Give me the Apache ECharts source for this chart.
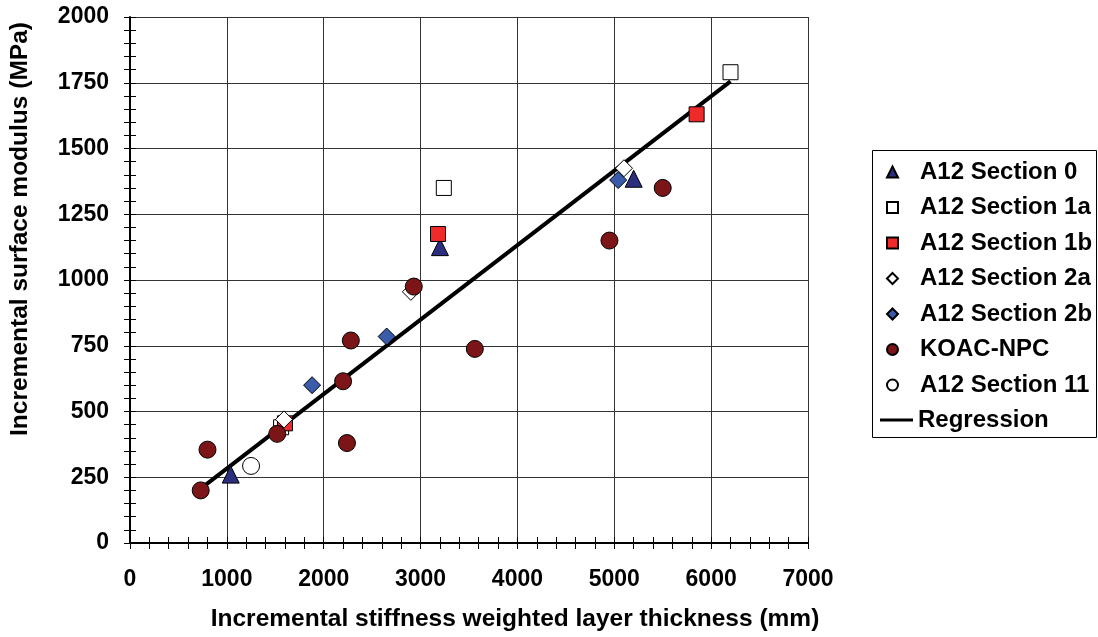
<!DOCTYPE html>
<html>
<head>
<meta charset="utf-8">
<script src="https://cdn.jsdelivr.net/npm/echarts@6/dist/echarts.min.js"></script>
<style>html,body{margin:0;padding:0;background:#fff}#c{width:1098px;height:637px}</style>
</head>
<body>
<div id="c"></div>
<script>
// ---- data ----
const sec0X = [1040, 3200, 5200];
const sec0Y = [260, 1125, 1385];
const sec1aX = [1560, 3240, 6200];
const sec1aY = [440, 1350, 1790];
const sec1bX = [1600, 3180, 5850];
const sec1bY = [455, 1175, 1630];
const sec2aX = [1590, 2900, 5100];
const sec2aY = [470, 955, 1425];
const sec2bX = [1880, 2650, 5040];
const sec2bY = [600, 785, 1380];
const koacX = [730, 800, 1520, 2200, 2280, 2240, 2930, 3560, 4950, 5500];
const koacY = [200, 355, 415, 615, 770, 380, 975, 738, 1150, 1350];
const sec11X = [1250];
const sec11Y = [293];
const regX = [730, 6200];
const regY = [207, 1755];
const seriesNames = ['A12 Section 0', 'A12 Section 1a', 'A12 Section 1b', 'A12 Section 2a', 'A12 Section 2b', 'KOAC-NPC', 'A12 Section 11', 'Regression'];
const xTitle = 'Incremental stiffness weighted layer thickness (mm)';
const yTitle = 'Incremental surface modulus (MPa)';

const zip = (xs, ys) => xs.map((x, i) => [x, ys[i]]);
const FONT = 'Liberation Sans, Arial, sans-serif';
const plain = v => String(v);

function scatter(name, xs, ys, symbol, size, color) {
  return {
    name, type: 'scatter', data: zip(xs, ys), symbol, symbolSize: size,
    itemStyle: { color, borderColor: '#000', borderWidth: 1, opacity: 1 },
    emphasis: { disabled: true }, z: 3
  };
}

const chart = echarts.init(document.getElementById('c'), null, { renderer: 'canvas' });
const axisCommonX = { type: 'value', min: 0, max: 7000, interval: 1000 };
const axisCommonY = { type: 'value', min: 0, max: 2000, interval: 250 };
chart.setOption({
  animation: false,
  backgroundColor: '#fff',
  grid: { left: 129, right: 290, top: 17, bottom: 93 },
  xAxis: [
    Object.assign({}, axisCommonX, {
      position: 'bottom',
      name: xTitle, nameLocation: 'middle', nameGap: 64,
      nameTextStyle: { fontFamily: FONT, fontWeight: 'bold', fontSize: 24.5, color: '#000', padding: [0, 0, 0, 92] },
      axisLine: { show: true, lineStyle: { color: '#000', width: 2 } },
      axisTick: { show: true, inside: false, length: 6, lineStyle: { color: '#000', width: 1 } },
      minorTick: { show: true, splitNumber: 5, length: 6, lineStyle: { color: '#000', width: 1 } },
      axisLabel: { fontFamily: FONT, fontWeight: 'bold', fontSize: 23, color: '#000', margin: 25, formatter: plain },
      splitLine: { show: true, lineStyle: { color: '#333', width: 1 } },
      minorSplitLine: { show: false }
    }),
    Object.assign({}, axisCommonX, {
      position: 'bottom',
      axisLine: { show: false },
      axisTick: { show: true, inside: true, length: 6, lineStyle: { color: '#000', width: 1 } },
      minorTick: { show: true, splitNumber: 5, length: 6, lineStyle: { color: '#000', width: 1 } },
      axisLabel: { show: false },
      splitLine: { show: false }
    })
  ],
  yAxis: [
    Object.assign({}, axisCommonY, {
      position: 'left',
      name: yTitle, nameLocation: 'middle', nameGap: 97, nameRotate: 90,
      nameTextStyle: { fontFamily: FONT, fontWeight: 'bold', fontSize: 24.5, color: '#000', padding: [0, 0, 0, 102] },
      axisLine: { show: true, lineStyle: { color: '#000', width: 2 } },
      axisTick: { show: true, inside: false, length: 6, lineStyle: { color: '#000', width: 1 } },
      minorTick: { show: true, splitNumber: 5, length: 6, lineStyle: { color: '#000', width: 1 } },
      axisLabel: { fontFamily: FONT, fontWeight: 'bold', fontSize: 23, color: '#000', margin: 21, formatter: plain },
      splitLine: { show: true, lineStyle: { color: '#333', width: 1 } },
      minorSplitLine: { show: false }
    }),
    Object.assign({}, axisCommonY, {
      position: 'left',
      axisLine: { show: false },
      axisTick: { show: true, inside: true, length: 6, lineStyle: { color: '#000', width: 1 } },
      minorTick: { show: true, splitNumber: 5, length: 6, lineStyle: { color: '#000', width: 1 } },
      axisLabel: { show: false },
      splitLine: { show: false }
    })
  ],
  legend: [
    {
      data: seriesNames.slice(0, 7),
      orient: 'vertical', left: 881, top: 155,
      itemWidth: 11, itemHeight: 11, itemGap: 11.5,
      selectedMode: false,
      textStyle: { fontFamily: FONT, fontWeight: 'bold', fontSize: 24, lineHeight: 24, color: '#000', padding: [0, 0, 0, 17] }
    },
    {
      data: [{ name: seriesNames[7], icon: 'rect' }],
      orient: 'vertical', left: 875, top: 403,
      itemWidth: 33, itemHeight: 3,
      selectedMode: false,
      itemStyle: { color: '#000' },
      textStyle: { fontFamily: FONT, fontWeight: 'bold', fontSize: 24, lineHeight: 24, color: '#000' }
    }
  ],
  graphic: [{
    type: 'rect', left: 872, top: 150, z: -1,
    shape: { width: 224, height: 287 },
    style: { fill: '#fff', stroke: '#000', lineWidth: 1 }
  }],
  series: [
    {
      name: seriesNames[7], type: 'line', data: zip(regX, regY),
      symbol: 'none', showSymbol: false,
      lineStyle: { color: '#000', width: 4 }, itemStyle: { color: '#000' },
      emphasis: { disabled: true }, z: 2
    },
    scatter(seriesNames[0], sec0X, sec0Y, 'triangle', 17, '#2B2D7E'),
    scatter(seriesNames[1], sec1aX, sec1aY, 'rect', 15, '#ffffff'),
    scatter(seriesNames[2], sec1bX, sec1bY, 'rect', 15, '#EE2A2A'),
    scatter(seriesNames[3], sec2aX, sec2aY, 'diamond', 17, '#ffffff'),
    scatter(seriesNames[4], sec2bX, sec2bY, 'diamond', 17, '#3A5BAA'),
    scatter(seriesNames[5], koacX, koacY, 'circle', 17, '#7B1518'),
    scatter(seriesNames[6], sec11X, sec11Y, 'circle', 17, '#ffffff')
  ]
});
</script>
</body>
</html>
